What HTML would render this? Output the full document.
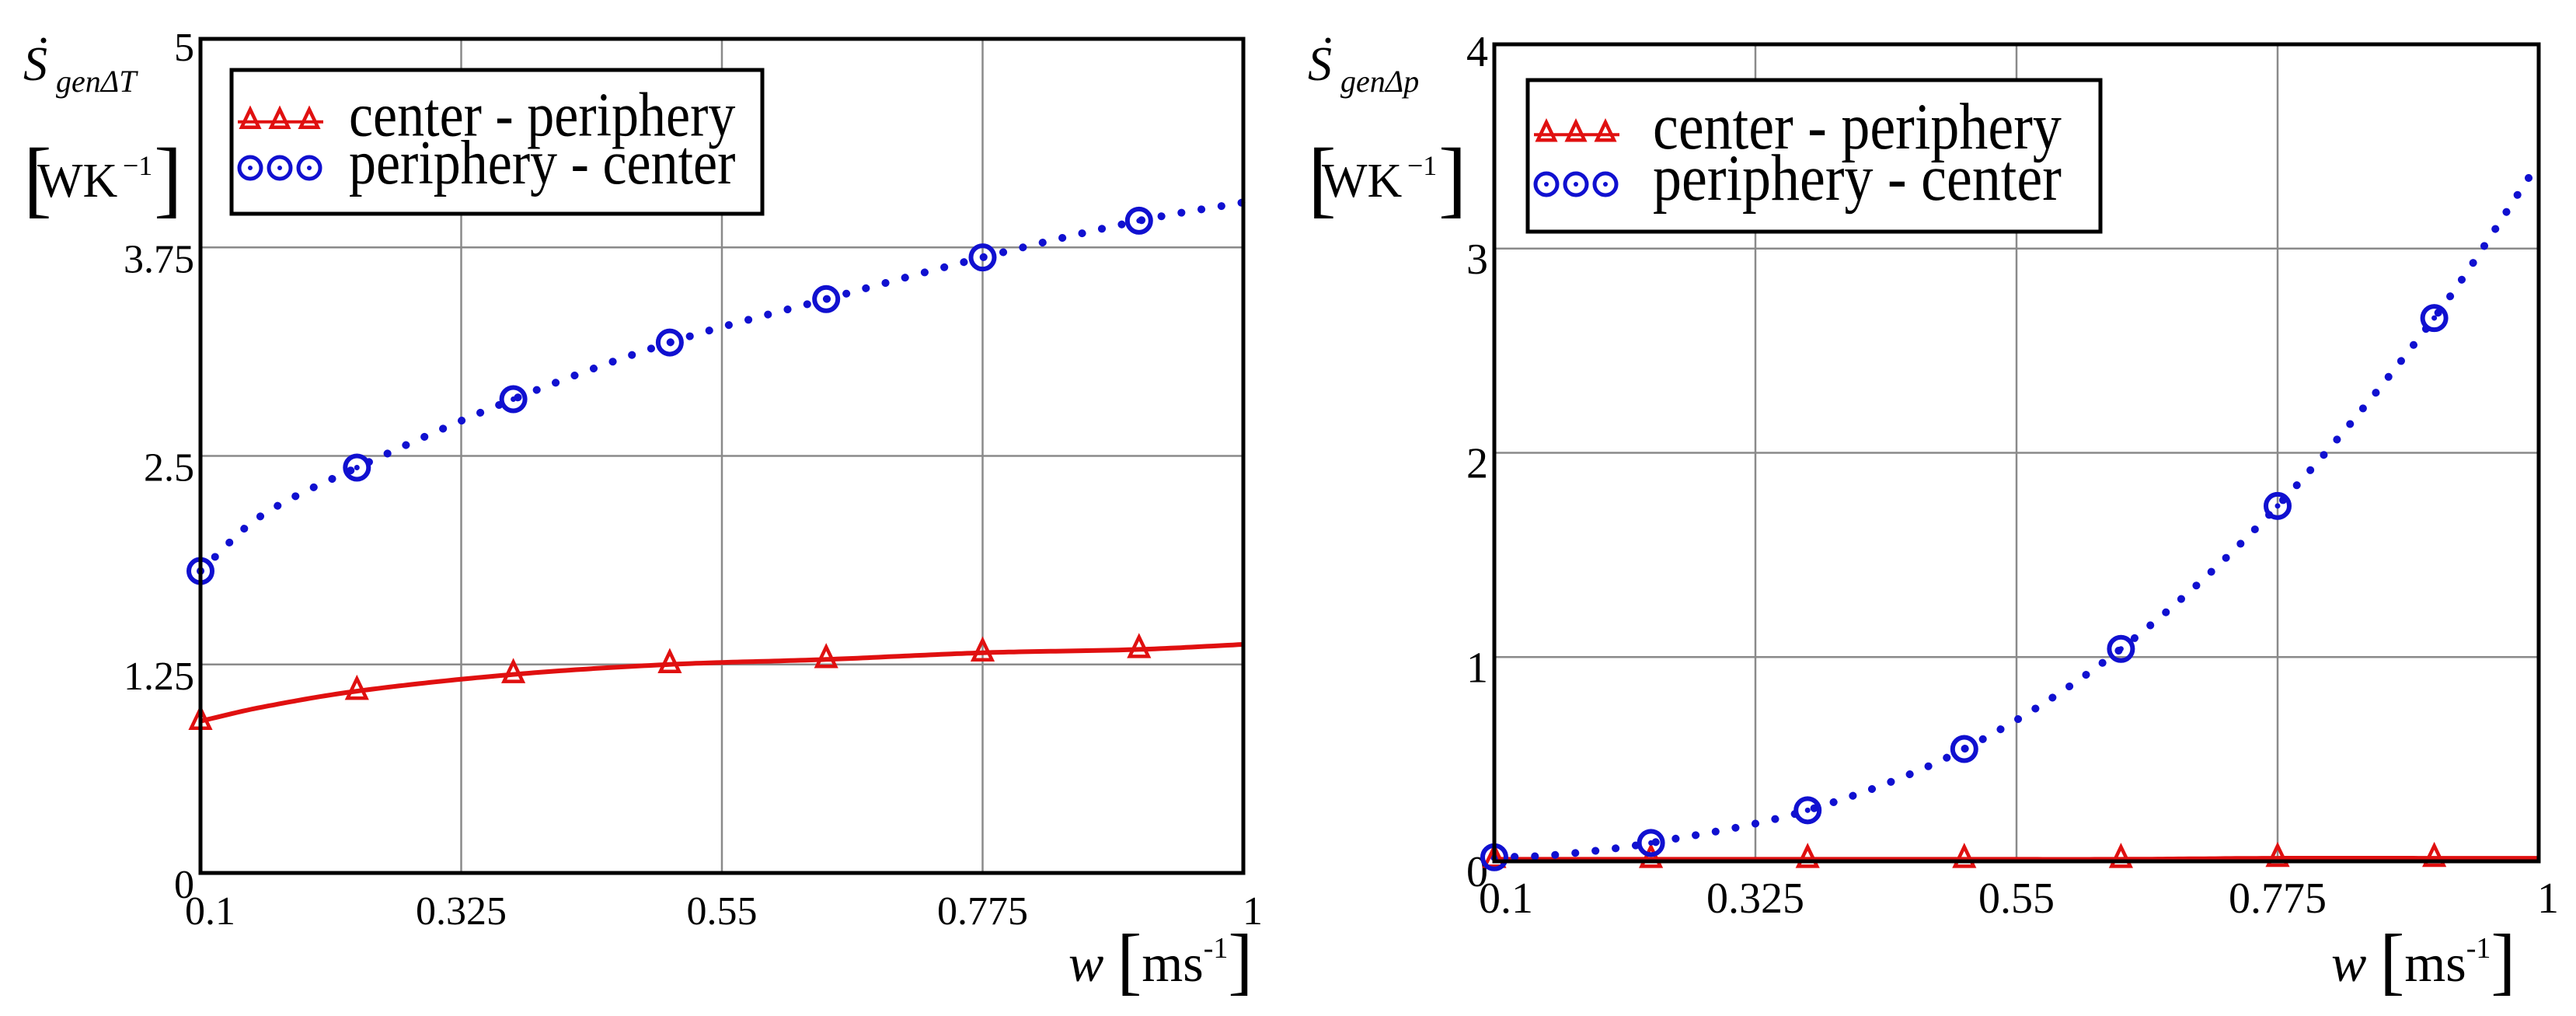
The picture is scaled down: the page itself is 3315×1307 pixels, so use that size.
<!DOCTYPE html>
<html><head><meta charset="utf-8"><style>
html,body{margin:0;padding:0;background:#fff}
svg{display:block}
text{font-family:"Liberation Serif",serif;fill:#000}
</style></head><body>
<svg id="svg" width="3315" height="1307" viewBox="0 0 3315 1307" xmlns="http://www.w3.org/2000/svg"></svg>
<script>
// ---- data ----
const markerW = [0.1, 0.235, 0.37, 0.505, 0.64, 0.775, 0.91];
const lineW = [0.1, 0.15, 0.235, 0.37, 0.505, 0.64, 0.775, 0.91, 1.0];
const leftRed = [0.91, 0.99, 1.09, 1.19, 1.25, 1.28, 1.32, 1.34, 1.37];
const leftBlue = [1.81, 2.13, 2.43, 2.84, 3.18, 3.44, 3.69, 3.91, 4.02];
const rightRed = [0.01, 0.01, 0.01, 0.01, 0.01, 0.01, 0.015, 0.015, 0.015];
const rightBlue = [0.02, 0.03, 0.09, 0.25, 0.55, 1.04, 1.74, 2.66, 3.42];
const xTicks = [0.1, 0.325, 0.55, 0.775, 1];
const xTickLabels = ["0.1", "0.325", "0.55", "0.775", "1"];
const leftYTicks = [0, 1.25, 2.5, 3.75, 5];
const leftYLabels = ["0", "1.25", "2.5", "3.75", "5"];
const rightYTicks = [0, 1, 2, 3, 4];
const rightYLabels = ["0", "1", "2", "3", "4"];

const NS = "http://www.w3.org/2000/svg";
const svg = document.getElementById('svg');
function mk(tag, attrs, parent) {
  const e = document.createElementNS(NS, tag);
  for (const k in attrs) e.setAttribute(k, attrs[k]);
  (parent || svg).appendChild(e);
  return e;
}
function interp(xs, ys, x) {
  let i = 0;
  while (i < xs.length - 2 && x > xs[i + 1]) i++;
  const x0 = xs[i], x1 = xs[i + 1], h = x1 - x0;
  const t = (x - x0) / h;
  const slope = j => {
    if (j === 0) return (ys[1] - ys[0]) / (xs[1] - xs[0]);
    if (j === xs.length - 1) return (ys[j] - ys[j-1]) / (xs[j] - xs[j-1]);
    return (ys[j+1] - ys[j-1]) / (xs[j+1] - xs[j-1]);
  };
  const m1 = slope(i) * h, m2 = slope(i + 1) * h;
  const p1 = ys[i], p2 = ys[i + 1];
  const t2 = t * t, t3 = t2 * t;
  return (2*t3 - 3*t2 + 1) * p1 + (t3 - 2*t2 + t) * m1 + (-2*t3 + 3*t2) * p2 + (t3 - t2) * m2;
}

function drawPanel(cfg) {
  const g = mk('g', {});
  
  
  const {L, R, T, B, ymax} = cfg;
  const xs = w => L + (w - 0.1) / 0.9 * (R - L);
  const ys = v => B - v / ymax * (B - T);
  xTicks.forEach((t, i) => {
    if (i > 0 && i < xTicks.length - 1) {
      const l = mk('line', {x1: xs(t), x2: xs(t), y1: T, y2: B, stroke: '#8a8a8a', 'stroke-width': 2.5}, g);
      
      
    }
    const tx = mk('text', {x: i === 0 ? xs(t) - 20 : xs(t) + (i === xTicks.length - 1 ? 12 : 0), y: B + 66, 'font-size': cfg.tickFont, 'text-anchor': i === 0 ? 'start' : 'middle'}, g);
    tx.textContent = xTickLabels[i];
    
    
  });
  cfg.yTicks.forEach((t, i) => {
    if (i > 0 && i < cfg.yTicks.length - 1) {
      const l = mk('line', {x1: L, x2: R, y1: ys(t), y2: ys(t), stroke: '#8a8a8a', 'stroke-width': 2.5}, g);
      
      
    }
    const tx = mk('text', {x: L - 8, y: ys(t) + (i === cfg.yTicks.length - 1 ? 28 : 32), 'font-size': cfg.tickFont, 'text-anchor': 'end'}, g);
    tx.textContent = cfg.yLabels[i];
    
    
  });
  function curve(vals) {
    let d = '';
    for (let k = 0; k <= 200; k++) {
      const w = 0.1 + 0.9 * k / 200;
      const v = interp(lineW, vals, w);
      d += (k ? 'L' : 'M') + xs(w).toFixed(1) + ',' + ys(v).toFixed(1);
    }
    return d;
  }
  const red = mk('path', {d: curve(cfg.red), fill: 'none', stroke: '#e01010', 'stroke-width': 6}, g);
  
  
  const blue = mk('path', {d: curve(cfg.blue), fill: 'none', stroke: '#1010d0', 'stroke-width': 10, 'stroke-dasharray': '0.1 26', 'stroke-linecap': 'round'}, g);
  
  
  markerW.forEach(w => {
    const v = interp(lineW, cfg.red, w);
    const cx = xs(w), cy = ys(v);
    const tri = mk('path', {d: `M${cx},${cy-16}L${cx+12},${cy+9}L${cx-12},${cy+9}Z`, fill: 'none', stroke: '#e01010', 'stroke-width': 4.5}, g);
    
    
    const vb = interp(lineW, cfg.blue, w);
    const c = mk('circle', {cx: xs(w), cy: ys(vb), r: 15, fill: 'none', stroke: '#1010d0', 'stroke-width': 6}, g);
    
    
    const cd = mk('circle', {cx: xs(w), cy: ys(vb), r: 3.5, fill: '#1010d0'}, g);
    
    
  });
  const fr = mk('rect', {x: L, y: T, width: R - L, height: B - T, fill: 'none', stroke: '#000', 'stroke-width': 5}, g);
  
  
  const lg = mk('g', {}, g);
  
  
  const Lg = cfg.legend;
  mk('rect', {x: Lg.x, y: Lg.y, width: Lg.w, height: Lg.h, fill: '#fff', stroke: '#000', 'stroke-width': 5}, lg);
  const r1 = Lg.y + Lg.h * 0.35, r2 = Lg.y + Lg.h * 0.8;
  const sx = Lg.x + 8, sw = 110;
  mk('line', {x1: sx, x2: sx + sw, y1: r1 + 2, y2: r1 + 2, stroke: '#e01010', 'stroke-width': 4}, lg);
  [0, 1, 2].forEach(k => {
    const cx = sx + 16 + k * 38;
    mk('path', {d: `M${cx},${r1-14}L${cx+11},${r1+9}L${cx-11},${r1+9}Z`, fill: 'none', stroke: '#e01010', 'stroke-width': 4.5}, lg);
    mk('circle', {cx: cx, cy: r2 - 22, r: 14, fill: 'none', stroke: '#1010d0', 'stroke-width': 5}, lg);
    mk('circle', {cx: cx, cy: r2 - 22, r: 3, fill: '#1010d0'}, lg);
  });
  const t1 = mk('text', {x: Lg.tx, y: r1 + 20, 'font-size': Lg.font, transform: `translate(0 ${-(r1+20)*0.15}) scale(1 1.15)`}, lg);
  t1.textContent = 'center - periphery';
  
  
  const t2 = mk('text', {x: Lg.tx, y: r2 - 2, 'font-size': Lg.font, transform: `translate(0 ${-(r2-2)*0.15}) scale(1 1.15)`}, lg);
  t2.textContent = 'periphery - center';
  
  
  const yt = mk('g', {}, g);
  
  
  const ax = cfg.ylab;
  const s = mk('text', {x: ax, y: 103, 'font-size': 62, 'font-style': 'italic'}, yt);
  s.textContent = 'S';
  mk('circle', {cx: ax + 26, cy: 52, r: 3.5, fill: '#000'}, yt);
  const sub = mk('text', {x: ax + 42, y: 118, 'font-size': 40, 'font-style': 'italic'}, yt);
  sub.textContent = cfg.sub;
  const br = mk('text', {x: ax, y: 266, 'font-size': 110}, yt);
  br.textContent = '[';
  const wk = mk('text', {x: ax + 18, y: 253, 'font-size': 62}, yt);
  wk.textContent = 'WK';
  const sup = mk('text', {x: ax + 128, y: 225, 'font-size': 36}, yt);
  sup.textContent = '−1';
  const br2 = mk('text', {x: ax + 168, y: 266, 'font-size': 110}, yt);
  br2.textContent = ']';
  const xt = mk('text', {x: cfg.xlabX, y: 1262, 'font-size': 68}, g);
  
  
  xt.innerHTML = '<tspan font-style="italic">w</tspan> <tspan font-size="96" dy="6">[</tspan><tspan dy="-6">ms</tspan><tspan font-size="38" dy="-30">-1</tspan><tspan font-size="96" dy="36">]</tspan>';
}

drawPanel({name: 'left-chart-delta-T', L: 258, R: 1600, T: 50, B: 1123, ymax: 5,
  yTicks: leftYTicks, yLabels: leftYLabels, red: leftRed, blue: leftBlue, tickFont: 52,
  legend: {x: 298, y: 90, w: 683, h: 185, tx: 449, font: 70},
  ylab: 30, sub: 'genΔT', xlabX: 1375});
drawPanel({name: 'right-chart-delta-p', L: 1923, R: 3267, T: 57, B: 1108, ymax: 4,
  yTicks: rightYTicks, yLabels: rightYLabels, red: rightRed, blue: rightBlue, tickFont: 56,
  legend: {x: 1966, y: 103, w: 737, h: 195, tx: 2127, font: 74},
  ylab: 1683, sub: 'genΔp', xlabX: 3000});
</script>
</body></html>
